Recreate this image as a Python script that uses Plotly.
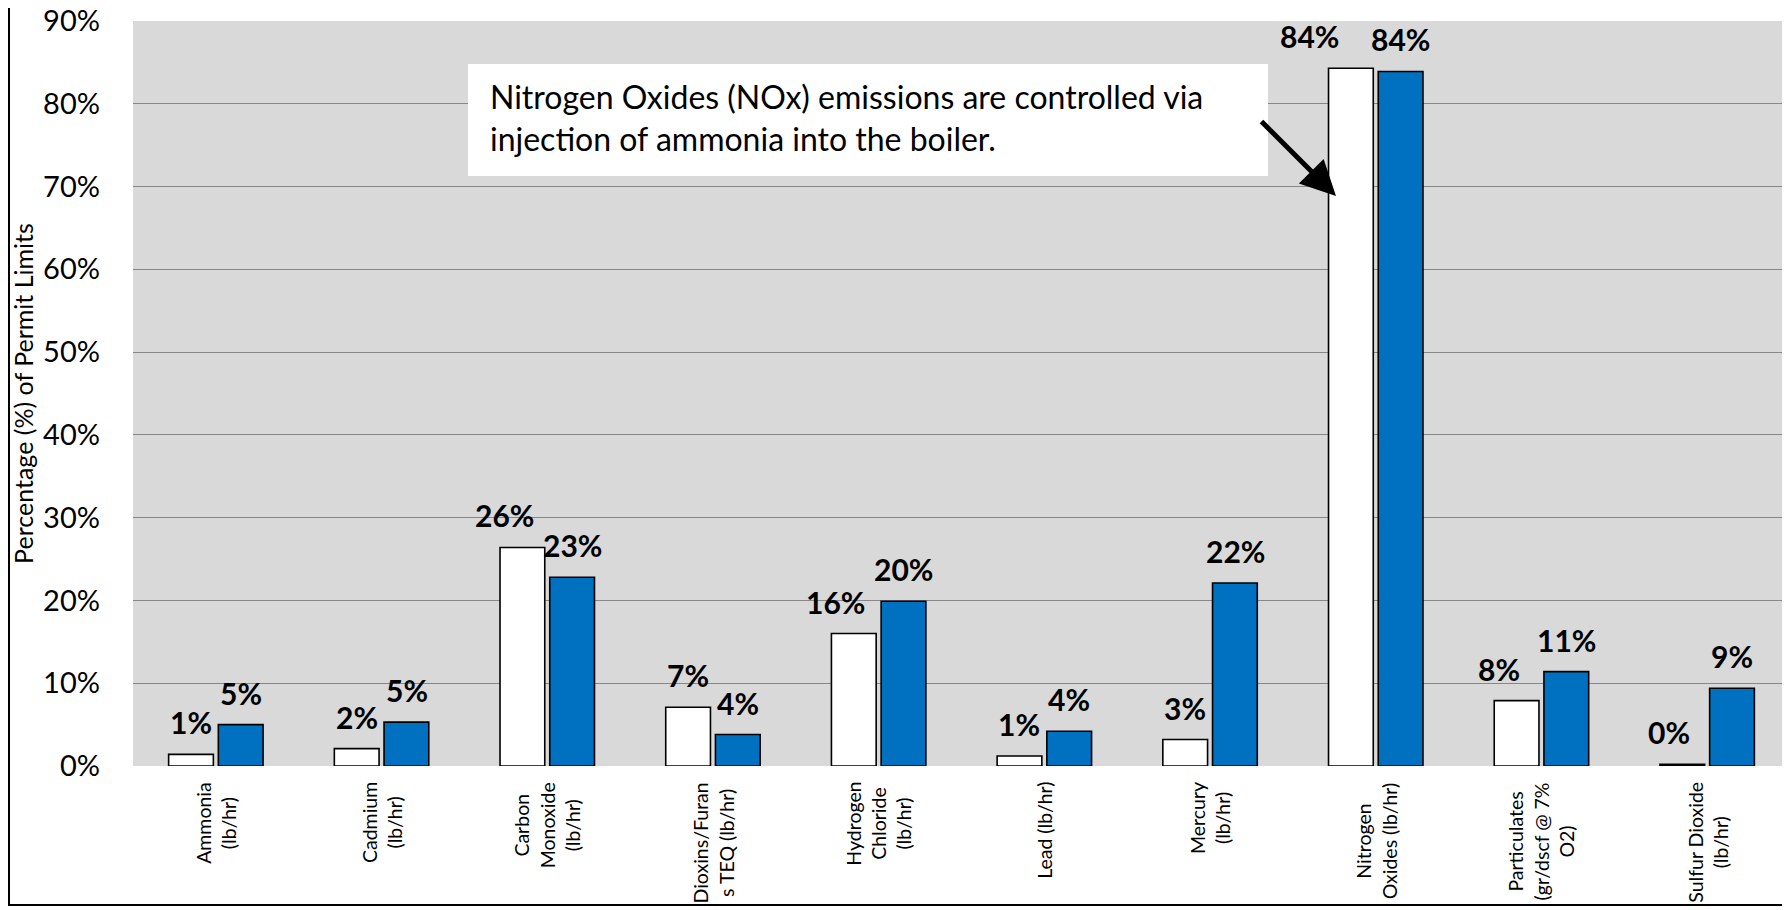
import plotly.graph_objects as go

categories = [
    "Ammonia<br>(lb/hr)",
    "Cadmium<br>(lb/hr)",
    "Carbon<br>Monoxide<br>(lb/hr)",
    "Dioxins/Furan<br>s TEQ (lb/hr)",
    "Hydrogen<br>Chloride<br>(lb/hr)",
    "Lead (lb/hr)",
    "Mercury<br>(lb/hr)",
    "Nitrogen<br>Oxides (lb/hr)",
    "Particulates<br>(gr/dscf @ 7%<br>O2)",
    "Sulfur Dioxide<br>(lb/hr)",
]
series_a = [0.014, 0.021, 0.264, 0.071, 0.160, 0.012, 0.032, 0.843, 0.079, 0.002]
series_b = [0.050, 0.053, 0.228, 0.038, 0.199, 0.042, 0.221, 0.839, 0.114, 0.094]
y_ticks = [0, 0.1, 0.2, 0.3, 0.4, 0.5, 0.6, 0.7, 0.8, 0.9]

# style: leftward nudge (px) of the first series' value labels, as placed in the original
label_nudge_a = [0, 0, 18, 0, 18, 0, 0, 41, 17, 13]

FONT = "Lato"
W, H = 1782, 902          # page body adds an 8px margin
ML, MR, MT, MB = 125, 0, 13, 144
PW, PH = W - ML - MR, H - MT - MB
BAR_OFFSET = 25           # px from category centre to each bar centre


def px_x(x):
    return (x - ML) / PW


def px_y(y):
    return (H - MB - y) / PH


fig = go.Figure()
common = dict(x=categories, marker_line=dict(color="black", width=1.6), hoverinfo="skip")
fig.add_trace(go.Bar(y=series_a, name="Series 1", marker_color="white", **common))
fig.add_trace(go.Bar(y=series_b, name="Series 2", marker_color="#0070C0", **common))

label_font = dict(family=FONT, size=30, color="black", weight="bold")
for c, va, vb, nud in zip(categories, series_a, series_b, label_nudge_a):
    fig.add_annotation(x=c, y=va, text=f"{va:.0%}", showarrow=False,
                       xanchor="center", yanchor="bottom",
                       xshift=-BAR_OFFSET - nud, yshift=12, font=label_font)
    fig.add_annotation(x=c, y=vb, text=f"{vb:.0%}", showarrow=False,
                       xanchor="center", yanchor="bottom",
                       xshift=BAR_OFFSET, yshift=12, font=label_font)

# centered, rotated category labels
for c in categories:
    fig.add_annotation(
        x=c, xref="x", y=0, yref="paper", yshift=-14,
        text=c, textangle=-90, showarrow=False,
        xanchor="center", yanchor="top", align="center",
        font=dict(family=FONT, size=19.5, color="black"),
    )

# callout box
fig.add_shape(
    type="rect", xref="paper", yref="paper",
    x0=px_x(460), x1=px_x(1260), y0=px_y(168), y1=px_y(56),
    line=dict(width=0), fillcolor="white", layer="above",
)
fig.add_annotation(
    x=px_x(480), xref="paper", y=px_y(110), yref="paper",
    xanchor="left", yanchor="middle",
    text="Nitrogen Oxides (NOx) emissions are controlled via<br>injection of ammonia into the boiler.",
    showarrow=False, align="left",
    font=dict(family=FONT, size=32, color="black"),
)
# arrow
fig.add_annotation(
    x=px_x(1328), xref="paper", y=px_y(188), yref="paper",
    ax=-76, ay=-76, text="", showarrow=True,
    arrowhead=2, arrowsize=1.4, arrowwidth=5, arrowcolor="black", standoff=0,
)

# outer border
fig.add_shape(
    type="rect", xref="paper", yref="paper",
    x0=px_x(1), x1=1.05, y0=px_y(897), y1=1.1,
    line=dict(color="black", width=2), fillcolor="rgba(0,0,0,0)", layer="above",
)

fig.update_layout(
    width=W, height=H,
    margin=dict(l=ML, r=MR, t=MT, b=MB, pad=0, autoexpand=False),
    paper_bgcolor="white", plot_bgcolor="#D9D9D9",
    barmode="group", bargap=0.4, bargroupgap=0.1,
    showlegend=False,
    font=dict(family=FONT, color="black"),
)
fig.update_xaxes(showticklabels=False, showgrid=False, zeroline=False, showline=False, ticks="",
                 automargin=False)
fig.update_yaxes(
    range=[0, 0.9], tickvals=y_ticks, tickformat=".0%",
    tickfont=dict(family=FONT, size=29, color="black"),
    showgrid=True, gridcolor="#878787", gridwidth=1.3,
    zeroline=False, showline=False, ticks="", ticklabelstandoff=32,
    ticklabeloverflow="allow", automargin=False,
    title=dict(text="Percentage (%) of Permit Limits", font=dict(family=FONT, size=25, color="black"), standoff=6),
)

fig.write_html("out.html")
